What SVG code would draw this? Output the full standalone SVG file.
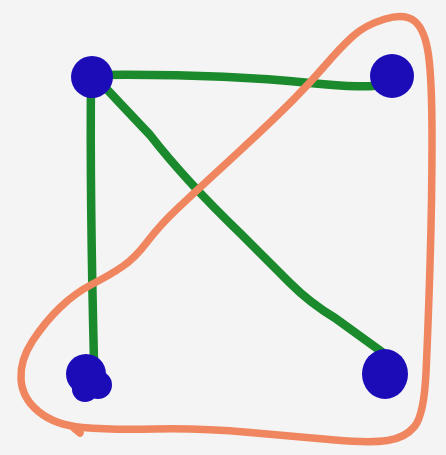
<svg xmlns="http://www.w3.org/2000/svg" width="446" height="455" viewBox="0 0 446 455">
  <style>
    .edge { fill: none; stroke: #1a8a2c; stroke-width: 8.5; stroke-linecap: round; stroke-linejoin: round; }
    .loop { fill: none; stroke: #f0865f; stroke-width: 7.5; stroke-linecap: round; stroke-linejoin: round; }
    .node { fill: #1c0cb8; }
  </style>
  <rect width="446" height="455" fill="#f4f4f4"/>
  <g id="connectors">
    <path class="edge" d="M95,75 C180,74 260,78 310,83 S370,86 385,85"/>
    <path class="edge" d="M91,80 C90,180 92,280 94,362"/>
    <path class="edge" d="M100,82 L150,135 Q185,180 240,233 L290,283 Q310,303 335,318 L382,352"/>
  </g>
  <g id="node-top-left"><circle class="node" cx="92" cy="77" r="21"/></g>
  <g id="node-top-right"><circle class="node" cx="392" cy="76" r="22"/></g>
  <g id="node-bottom-left">
    <circle class="node" cx="86" cy="374" r="20"/>
    <circle class="node" cx="98" cy="385" r="14"/>
    <circle class="node" cx="85" cy="389" r="13"/>
  </g>
  <g id="node-bottom-right"><ellipse class="node" cx="385" cy="374" rx="23" ry="25"/></g>
  <g id="loop">
    <path class="loop" d="M385,19 Q405,13 415,21.5 Q425,30 428.5,55 Q432,80 432,140 Q432,200 430,265 Q428,330 426,372.5 Q424,415 414.5,426.5 Q405,438 387.5,440.5 Q370,443 335,440 Q300,437 250,432.5 Q200,428 155,429 Q110,430 82.5,427.5 Q55,425 38.5,411.5 Q22,398 21,379 Q20,360 32.5,341 Q45,322 60,307.5 Q75,293 92.5,284 Q110,275 122.5,266.5 Q135,258 147.5,241.5 Q160,225 177.5,208.5 Q195,192 212.5,176 Q230,160 252.5,139 Q275,118 292.5,100.5 Q310,83 325,65.5 Q340,48 352.5,36.5 Q365,25 385,19 Z"/>
    <path class="loop" d="M74,428 L80,433"/>
  </g>
</svg>
